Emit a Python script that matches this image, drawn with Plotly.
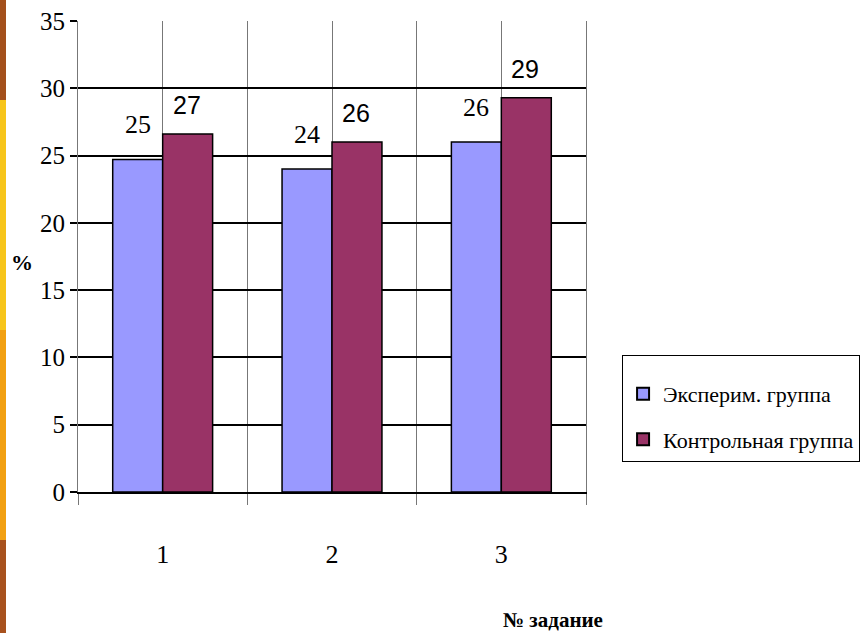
import plotly.graph_objects as go

tasks = [1, 2, 3]
task_labels = ["1", "2", "3"]
exp_values = [24.7, 24.0, 26.0]
ctrl_values = [26.6, 26.0, 29.3]
exp_name = "Эксперим. группа"
ctrl_name = "Контрольная группа"
y_ticks = [0, 5, 10, 15, 20, 25, 30, 35]

SERIF = "Liberation Serif"
NARROW = "Liberation Sans Narrow, Liberation Sans"

fig = go.Figure()
fig.add_trace(go.Bar(x=tasks, y=exp_values, name=exp_name, legendgroup="a",
                     marker=dict(color="#9999FF", line=dict(color="black", width=1.5))))
fig.add_trace(go.Bar(x=tasks, y=ctrl_values, name=ctrl_name, legendgroup="b",
                     marker=dict(color="#993366", line=dict(color="black", width=1.5))))

annotations = []
for t, v in zip(tasks, exp_values):
    annotations.append(dict(x=t, y=v, xref="x", yref="y", text=f"{v:.0f}", showarrow=False,
                            xshift=-25, yshift=35, yanchor="middle",
                            font=dict(family=SERIF, size=26, color="black")))
for t, v in zip(tasks, ctrl_values):
    annotations.append(dict(x=t, y=v, xref="x", yref="y", text=f"{v:.0f}", showarrow=False,
                            xshift=24, yshift=29, yanchor="middle",
                            font=dict(family=NARROW, size=25, color="black")))
annotations.append(dict(x=-0.11, y=0.488, xref="paper", yref="paper", text="<b>%</b>",
                        xanchor="center", yanchor="middle",
                        showarrow=False, font=dict(family=SERIF, size=22, color="black")))
annotations.append(dict(x=0.935, y=-0.272, xref="paper", yref="paper", text="<b>№ задание</b>",
                        xanchor="center", yanchor="middle",
                        showarrow=False, font=dict(family=SERIF, size=21, color="black")))

# decorative slide stripe on the left edge
stripe = [(0, 100, "#A4501C"), (100, 330, "#F7C51A"), (330, 540, "#F2A012"), (540, 633, "#A8521E")]
shapes = []
top, bottom, left, pw = 21, 492, 78, 508
ph = bottom - top
for y0, y1, c in stripe:
    shapes.append(dict(type="rect", xref="paper", yref="paper",
                       x0=(0 - left) / pw, x1=(6 - left) / pw,
                       y0=(bottom - y1) / ph, y1=(bottom - y0) / ph,
                       fillcolor=c, line=dict(width=0), layer="below"))

fig.update_layout(
    width=863, height=633,
    margin=dict(l=78, r=277, t=21, b=141, autoexpand=False),
    paper_bgcolor="white", plot_bgcolor="white",
    barmode="group", bargap=0.41, bargroupgap=0,
    showlegend=True,
    legend=dict(x=1.071, y=0.291, xanchor="left", yanchor="top",
                bordercolor="black", borderwidth=1, bgcolor="white",
                font=dict(family=SERIF, size=22, color="black"),
                title=dict(text=" ", font=dict(size=13)),
                traceorder="grouped", tracegroupgap=14, itemsizing="constant", itemwidth=30),
    annotations=annotations,
    shapes=shapes,
)
fig.update_xaxes(
    range=[0.5, 3.5], tickmode="array", tickvals=tasks, ticktext=task_labels,
    ticks="", ticklabelstandoff=38,
    tickfont=dict(family=SERIF, size=26, color="black"),
    showgrid=True, gridcolor="#777777", gridwidth=1,
    zeroline=False, showline=True, linecolor="black", linewidth=1.5,
    minor=dict(tickmode="array", tickvals=[0.5, 1.5, 2.5, 3.5], ticks="outside",
               ticklen=11, tickcolor="#777777", tickwidth=1,
               showgrid=True, gridcolor="#777777", gridwidth=1),
)
fig.update_yaxes(
    range=[0, 35], tickmode="array", tickvals=y_ticks,
    ticks="outside", ticklen=7, tickcolor="black", tickwidth=1.5,
    tickfont=dict(family=SERIF, size=25, color="black"),
    showgrid=True, gridcolor="black", gridwidth=1.5,
    zeroline=False, showline=True, linecolor="#777777", linewidth=1, mirror=True,
)

fig.write_html("out.html", config={"displayModeBar": False},
               post_script="document.body.style.margin='0';document.body.style.overflow='hidden';")
